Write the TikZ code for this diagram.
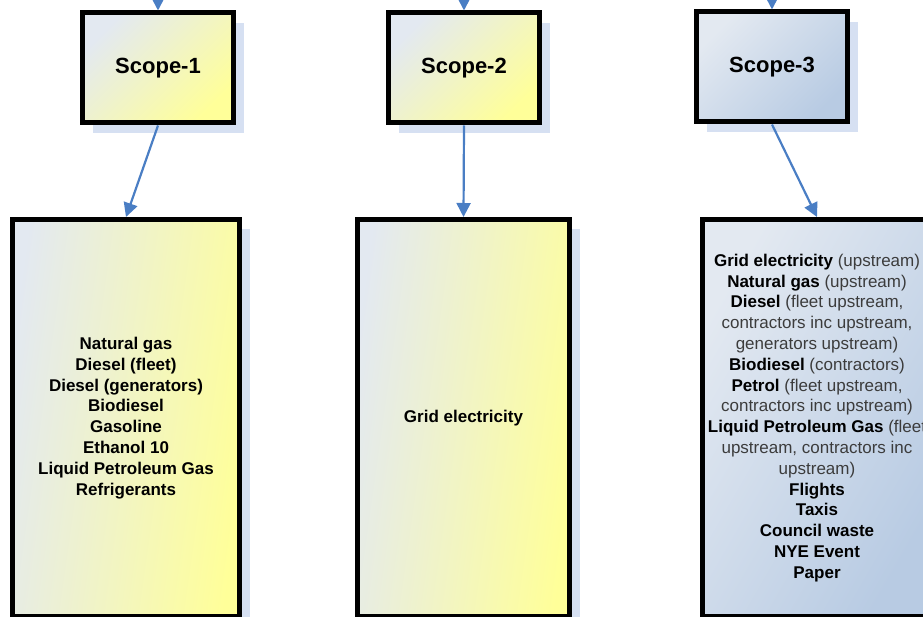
\documentclass[tikz,border=0pt]{standalone}
\usepackage{fontspec}
\setmainfont{Liberation Sans}
\usetikzlibrary{arrows.meta,shadows}
\definecolor{arrowblue}{HTML}{4A7EC4}
\definecolor{paleblue}{HTML}{E3E9F1}
\definecolor{lightyellow}{HTML}{FFFF99}
\definecolor{steel}{HTML}{B8CBE3}
\definecolor{shadowblue}{HTML}{D6E0F2}
\definecolor{textgray}{HTML}{3C3C3C}
\newcommand\lite[1]{{\mdseries\color{textgray}#1}}
\tikzset{
  boxbase/.style={draw=black, line width=5pt, rectangle, inner sep=0pt, align=center,
    drop shadow={shadow xshift=10pt, shadow yshift=-10pt, fill=shadowblue, opacity=1}},
  scopebox/.style={boxbase, minimum width=151pt, minimum height=110pt,
    font=\fontsize{22}{26}\selectfont\bfseries},
  listbox/.style={boxbase, minimum height=397pt,
    font=\fontsize{17}{20.8}\selectfont\bfseries},
  yellowdiag/.style={left color=paleblue, right color=lightyellow, shading angle=45},
  bluediag/.style={left color=paleblue, right color=steel, shading angle=45},
  yellowside/.style={left color=paleblue, right color=lightyellow, shading angle=82},
  blueside/.style={left color=paleblue, right color=steel, shading angle=60},
  link/.style={draw=arrowblue, line width=2.2pt, -{Triangle[length=14pt,width=14pt]}},
}
\begin{document}
\begin{tikzpicture}[x=1pt,y=-1pt]
\useasboundingbox (0,0) rectangle (923,617);
\clip (0,0) rectangle (923,617);
% top boxes
\node[scopebox, yellowdiag] (s1) at (158,68) {Scope-1};
\node[scopebox, yellowdiag] (s2) at (464,68) {Scope-2};
\node[scopebox, bluediag] (s3) at (772,67) {Scope-3};
% lower boxes
\node[listbox, yellowside, minimum width=227pt] (b1) at (126,418)
  {Natural gas\\Diesel (fleet)\\Diesel (generators)\\Biodiesel\\Gasoline\\Ethanol 10\\Liquid Petroleum Gas\\Refrigerants};
\node[listbox, yellowside, minimum width=212pt] (b2) at (463.5,418) {Grid electricity};
\node[listbox, blueside, minimum width=229pt] (b3) at (817,418)
  {Grid electricity \lite{(upstream)}\\
   Natural gas \lite{(upstream)}\\
   Diesel \lite{(fleet upstream,}\\
   \lite{contractors inc upstream,}\\
   \lite{generators upstream)}\\
   Biodiesel \lite{(contractors)}\\
   Petrol \lite{(fleet upstream,}\\
   \lite{contractors inc upstream)}\\
   Liquid Petroleum Gas \lite{(fleet}\\
   \lite{upstream, contractors inc}\\
   \lite{upstream)}\\
   Flights\\Taxis\\Council waste\\NYE Event\\Paper};
% incoming connectors from above (cut off)
\coordinate (t1) at (158,-20);
\coordinate (t2) at (464,-20);
\coordinate (t3) at (772,-20);
\draw[link] (t1) -- (s1);
\draw[link] (t2) -- (s2);
\draw[link] (t3) -- (s3);
% connectors
\draw[link] (s1.south) -- (b1.north);
\draw[link] (s2.south) -- (b2.north);
\draw[link] (s3.south) -- (b3.north);
\end{tikzpicture}
\end{document}
